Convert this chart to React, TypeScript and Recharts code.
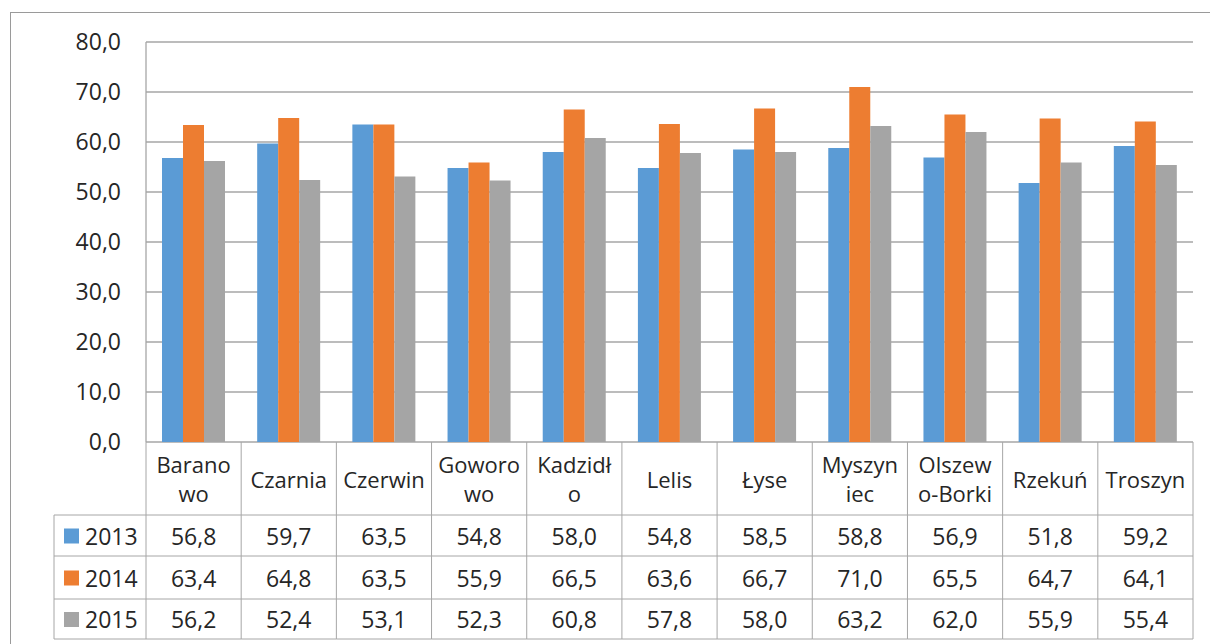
import React from "react";
import { BarChart, Bar, XAxis, YAxis, CartesianGrid } from "recharts";

// gminy, nazwy łamane jak w oryginale
const categories = [
  "Barano\nwo",
  "Czarnia",
  "Czerwin",
  "Goworo\nwo",
  "Kadzidł\no",
  "Lelis",
  "Łyse",
  "Myszyn\niec",
  "Olszew\no-Borki",
  "Rzekuń",
  "Troszyn",
];

const values2013 = [56.8, 59.7, 63.5, 54.8, 58.0, 54.8, 58.5, 58.8, 56.9, 51.8, 59.2];
const values2014 = [63.4, 64.8, 63.5, 55.9, 66.5, 63.6, 66.7, 71.0, 65.5, 64.7, 64.1];
const values2015 = [56.2, 52.4, 53.1, 52.3, 60.8, 57.8, 58.0, 63.2, 62.0, 55.9, 55.4];

const yTicks = [0, 10, 20, 30, 40, 50, 60, 70, 80];

const seriesList = [
  { key: "y2013", name: "2013", color: "#5B9BD5", values: values2013 },
  { key: "y2014", name: "2014", color: "#ED7D31", values: values2014 },
  { key: "y2015", name: "2015", color: "#A5A5A5", values: values2015 },
];

const data = categories.map((name, i) => ({
  name,
  y2013: values2013[i],
  y2014: values2014[i],
  y2015: values2015[i],
}));

const W = 1210;
const H = 644;
const PLOT_LEFT = 146;
const PLOT_RIGHT = 1193;
const PLOT_TOP = 42;
const PLOT_BOTTOM = 442;
const BAND = (PLOT_RIGHT - PLOT_LEFT) / categories.length;
const HEADER_H = 73;
const ROW_H = [41, 43, 40];
const LEGEND_LEFT = 54;
const LINE = "#a6a6a6";
const TEXT = "#262626";
const FONT = "'Open Sans', 'Noto Sans', sans-serif";
const FS = 22;
const FS_NUM = 23;

const fmt = (v: number) => v.toFixed(1).replace(".", ",");

function TableTick(props: any) {
  const { x, payload, index } = props;
  const top = PLOT_BOTTOM;
  const left = x - BAND / 2;
  const right = x + BAND / 2;
  const rowTops: number[] = [];
  let acc = top + HEADER_H;
  for (const h of ROW_H) {
    rowTops.push(acc);
    acc += h;
  }
  const bottom = acc;
  const lines = String(payload.value).split("\n");
  const headerMid = top + HEADER_H / 2;
  const isLast = index === categories.length - 1;

  return (
    <g>
      <line x1={left} y1={top} x2={left} y2={bottom} stroke={LINE} />
      {isLast && <line x1={right} y1={top} x2={right} y2={bottom} stroke={LINE} />}
      {rowTops.map((ry, r) => (
        <line key={r} x1={left} y1={ry} x2={right} y2={ry} stroke={LINE} />
      ))}
      <line x1={left} y1={bottom} x2={right} y2={bottom} stroke={LINE} />
      {lines.map((t, li) => (
        <text
          key={li}
          x={x}
          y={headerMid + (li - (lines.length - 1) / 2) * 29}
          textAnchor="middle"
          dominantBaseline="central"
          fontFamily={FONT}
          fontSize={FS}
          fill={TEXT}
        >
          {t}
        </text>
      ))}
      {seriesList.map((s, r) => (
        <text
          key={s.key}
          x={x}
          y={rowTops[r] + ROW_H[r] / 2}
          textAnchor="middle"
          dominantBaseline="central"
          fontFamily={FONT}
          fontSize={FS_NUM}
          fill={TEXT}
        >
          {fmt(s.values[index])}
        </text>
      ))}
      {index === 0 && (
        <g>
          {rowTops.map((ry, r) => (
            <line key={"l" + r} x1={LEGEND_LEFT} y1={ry} x2={left} y2={ry} stroke={LINE} />
          ))}
          <line x1={LEGEND_LEFT} y1={bottom} x2={left} y2={bottom} stroke={LINE} />
          <line x1={LEGEND_LEFT} y1={rowTops[0]} x2={LEGEND_LEFT} y2={bottom} stroke={LINE} />
          {seriesList.map((s, r) => {
            const cy = rowTops[r] + ROW_H[r] / 2;
            return (
              <g key={"k" + s.key}>
                <rect x={LEGEND_LEFT + 10} y={cy - 7} width={15} height={15} fill={s.color} />
                <text
                  x={LEGEND_LEFT + 31}
                  y={cy}
                  dominantBaseline="central"
                  fontFamily={FONT}
                  fontSize={FS_NUM}
                  fill={TEXT}
                >
                  {s.name}
                </text>
              </g>
            );
          })}
        </g>
      )}
    </g>
  );
}

export default function App() {
  return (
    <div style={{ position: "absolute", left: 0, top: 0, width: W, height: H, background: "#fff", overflow: "hidden" }}>
      <div
        style={{
          position: "absolute",
          left: 10,
          top: 12,
          width: W,
          height: H,
          borderLeft: "1.5px solid #9a9a9a",
          borderTop: "1.5px solid #9a9a9a",
        }}
      />
      <div style={{ position: "absolute", left: 0, top: 0 }}>
        <BarChart
          width={W}
          height={H}
          data={data}
          margin={{ top: PLOT_TOP, right: W - PLOT_RIGHT, left: 0, bottom: 0 }}
          barSize={21}
          barGap={0}
        >
          <CartesianGrid vertical={false} stroke={LINE} strokeWidth={1.3} />
          <YAxis
            domain={[0, 80]}
            ticks={yTicks}
            interval={0}
            width={PLOT_LEFT}
            tickLine={false}
            tickSize={0}
            tickMargin={25}
            axisLine={{ stroke: LINE, strokeWidth: 1.3 }}
            tickFormatter={fmt}
            tick={{ fontFamily: FONT, fontSize: FS_NUM, fill: TEXT }}
          />
          <XAxis
            dataKey="name"
            height={H - PLOT_BOTTOM}
            interval={0}
            tickLine={false}
            tickSize={0}
            axisLine={false}
            tick={<TableTick />}
          />
          {seriesList.map((s) => (
            <Bar key={s.key} dataKey={s.key} name={s.name} fill={s.color} isAnimationActive={false} />
          ))}
        </BarChart>
      </div>
    </div>
  );
}
